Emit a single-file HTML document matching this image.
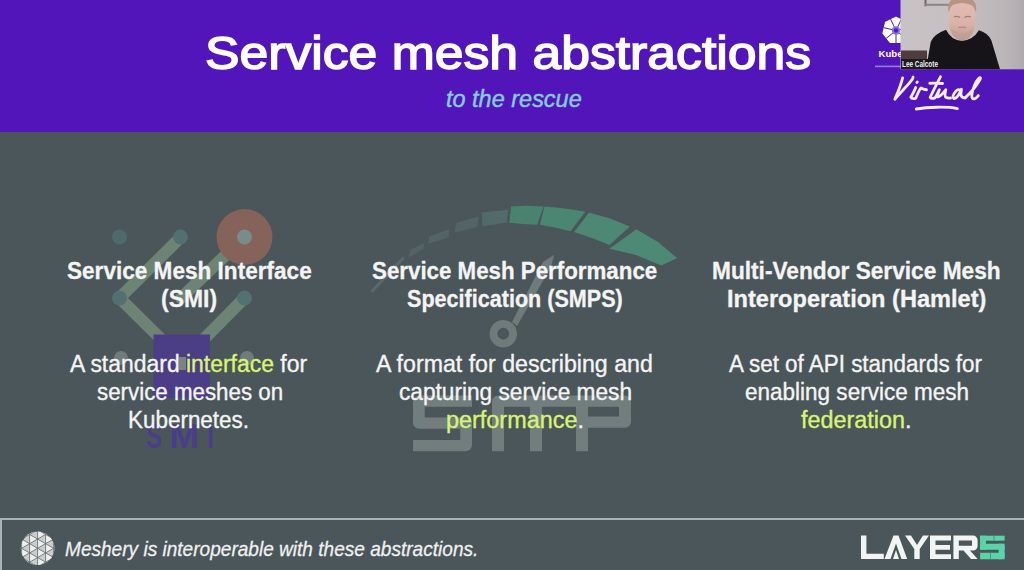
<!DOCTYPE html>
<html><head><meta charset="utf-8">
<style>
html,body{margin:0;padding:0;}
body{width:1024px;height:570px;overflow:hidden;position:relative;background:#4a5659;font-family:"Liberation Sans",sans-serif;}
.t{position:absolute;white-space:nowrap;transform-origin:0 0;}
#hdr{position:absolute;left:0;top:0;width:1024px;height:132px;background:#5115b9;}
#fline{position:absolute;left:0;top:518px;width:1024px;height:2px;background:#a9b3b3;}
#vline{position:absolute;left:0;top:518px;width:1.6px;height:52px;background:#a9b3b3;}
svg{position:absolute;left:0;top:0;}
</style></head><body>
<div id="hdr"></div>
<div id="fline"></div><div id="vline"></div>
<svg width="1024" height="570" viewBox="0 0 1024 570">
<!-- SMI logo -->
<g>
<path d="M181,237 L119.5,298 L163,341" fill="none" stroke="#6d8373" stroke-width="12" stroke-linecap="round" stroke-linejoin="round"/>
<path d="M244.5,237 L181,298" fill="none" stroke="#6d8373" stroke-width="12" stroke-linecap="round"/>
<path d="M244.5,298 L202,341" fill="none" stroke="#6d8373" stroke-width="12" stroke-linecap="round"/>
<circle cx="119.5" cy="237" r="7.5" fill="#506a6c"/>
<circle cx="180.5" cy="237" r="7.5" fill="#546f6f"/>
<circle cx="119.5" cy="298" r="7.5" fill="#546f6f"/>
<circle cx="244.5" cy="298" r="7.5" fill="#557070"/>
<circle cx="244.5" cy="237" r="28" fill="#85625a"/>
<circle cx="244.5" cy="237" r="7.5" fill="#7a8c8a"/>
<rect x="153.5" y="334.5" width="56.5" height="63.5" fill="#4b3d86"/>
<circle cx="121" cy="358" r="7" fill="#6f7b7c"/>
<circle cx="247" cy="358" r="7" fill="#6f7b7c"/>
<rect x="179" y="357" width="7" height="13" fill="#7c8286"/>
<g font-family="Liberation Sans" font-weight="bold" font-size="35" fill="#4a3d8a">
<text x="146.3" y="448" textLength="15.7" lengthAdjust="spacingAndGlyphs">S</text>
<text x="169.5" y="448" textLength="29.5" lengthAdjust="spacingAndGlyphs">M</text>
<text x="207.3" y="448" textLength="6.3" lengthAdjust="spacingAndGlyphs">I</text>
</g>
</g>
<!-- SMP logo -->
<g>
<path d="M370.3,290.8 L402.5,256.5 L404.8,258.8 L372.5,293.0Z" fill="#5b686a"/>
<path d="M409.9,250.2 L423.7,242.9 L423.7,248.4 L408.9,257.6Z" fill="#546365"/>
<path d="M429.2,236.4 L449.4,229.0 L448.5,237.4 L428.3,243.8Z" fill="#536366"/>
<path d="M456.8,222.6 L478.9,216.2 L477.0,227.2 L454.0,232.8Z" fill="#536466"/>
<path d="M481.7,212.5 L508.4,209.7 L506.5,222.6 L482.6,226.3Z" fill="#516a6a"/>
<path d="M511.1,206.5 L527.0,205.8 L543.6,206.5 L537.1,224.7 L523.0,224.0 L509.3,222.8Z" fill="#4a8270"/>
<path d="M544.5,206.5 L565.0,208.5 L585.3,211.7 L570.5,231.2 L555.0,227.5 L539.9,224.7Z" fill="#4b8672"/>
<path d="M589.0,212.6 L610.0,218.5 L629.9,226.5 L609.5,245.1 L592.0,238.0 L574.2,232.1Z" fill="#4c8874"/>
<path d="M636.4,229.3 L658.0,242.0 L677.2,258.1 L661.4,265.5 L636.0,255.0 L609.5,248.8Z" fill="#4d8a75"/>
<path d="M512,322 L543,262 L554.2,254.7 L551,267 L517,326 Z" fill="#6f7a7a"/>
<circle cx="503.3" cy="333.7" r="9.8" fill="none" stroke="#6f7a7a" stroke-width="7.8"/>
<g fill="#727d7e">
<path d="M419,395.5 H472 V406.7 H424.7 V417.5 H466 A6,6 0 0 1 472,423.5 V445 A6,6 0 0 1 466,451.2 H413 V440 H460.3 V428.7 H419 A6,6 0 0 1 413,422.7 V401.5 A6,6 0 0 1 419,395.5 Z"/>
<path d="M498,395.5 H625 A6,6 0 0 1 631,401.5 V421.7 A6,6 0 0 1 625,427.7 H588 V451.2 H576 V406.7 H542 V451.2 H530 V406.7 H504 V451.2 H492 V401.5 A6,6 0 0 1 498,395.5 Z M588,406.7 V416.6 H619 V406.7 Z" fill-rule="evenodd"/>
</g>
</g>
<!-- Meshery logo -->
<clipPath id="mc"><circle cx="37.6" cy="548.3" r="16.8"/></clipPath>
<g clip-path="url(#mc)">
<circle cx="37.6" cy="548.3" r="16.8" fill="#c9cdcd"/>
<path d="M13.60,497.48 L13.60,506.72 L21.60,502.10Z" fill="#eef0f0"/>
<path d="M13.60,506.72 L13.60,515.96 L21.60,511.34Z" fill="#eef0f0"/>
<path d="M13.60,515.96 L13.60,525.20 L21.60,520.58Z" fill="#eef0f0"/>
<path d="M13.60,525.20 L13.60,534.44 L21.60,529.82Z" fill="#eef0f0"/>
<path d="M13.60,534.44 L13.60,543.68 L21.60,539.06Z" fill="#eef0f0"/>
<path d="M13.60,543.68 L13.60,552.92 L21.60,548.30Z" fill="#eef0f0"/>
<path d="M13.60,552.92 L13.60,562.16 L21.60,557.54Z" fill="#eef0f0"/>
<path d="M13.60,562.16 L13.60,571.40 L21.60,566.78Z" fill="#eef0f0"/>
<path d="M13.60,571.40 L13.60,580.64 L21.60,576.02Z" fill="#eef0f0"/>
<path d="M21.60,502.10 L21.60,511.34 L29.60,506.72Z" fill="#eef0f0"/>
<path d="M21.60,511.34 L21.60,520.58 L29.60,515.96Z" fill="#eef0f0"/>
<path d="M21.60,520.58 L21.60,529.82 L29.60,525.20Z" fill="#eef0f0"/>
<path d="M21.60,529.82 L21.60,539.06 L29.60,534.44Z" fill="#eef0f0"/>
<path d="M21.60,539.06 L21.60,548.30 L29.60,543.68Z" fill="#eef0f0"/>
<path d="M21.60,548.30 L21.60,557.54 L29.60,552.92Z" fill="#eef0f0"/>
<path d="M21.60,557.54 L21.60,566.78 L29.60,562.16Z" fill="#eef0f0"/>
<path d="M21.60,566.78 L21.60,576.02 L29.60,571.40Z" fill="#eef0f0"/>
<path d="M21.60,576.02 L21.60,585.26 L29.60,580.64Z" fill="#eef0f0"/>
<path d="M29.60,506.72 L29.60,515.96 L37.60,511.34Z" fill="#eef0f0"/>
<path d="M29.60,515.96 L29.60,525.20 L37.60,520.58Z" fill="#eef0f0"/>
<path d="M29.60,525.20 L29.60,534.44 L37.60,529.82Z" fill="#eef0f0"/>
<path d="M29.60,534.44 L29.60,543.68 L37.60,539.06Z" fill="#eef0f0"/>
<path d="M29.60,543.68 L29.60,552.92 L37.60,548.30Z" fill="#eef0f0"/>
<path d="M29.60,552.92 L29.60,562.16 L37.60,557.54Z" fill="#eef0f0"/>
<path d="M29.60,562.16 L29.60,571.40 L37.60,566.78Z" fill="#eef0f0"/>
<path d="M29.60,571.40 L29.60,580.64 L37.60,576.02Z" fill="#eef0f0"/>
<path d="M29.60,580.64 L29.60,589.88 L37.60,585.26Z" fill="#eef0f0"/>
<path d="M37.60,511.34 L37.60,520.58 L45.60,515.96Z" fill="#eef0f0"/>
<path d="M37.60,520.58 L37.60,529.82 L45.60,525.20Z" fill="#eef0f0"/>
<path d="M37.60,529.82 L37.60,539.06 L45.60,534.44Z" fill="#eef0f0"/>
<path d="M37.60,539.06 L37.60,548.30 L45.60,543.68Z" fill="#eef0f0"/>
<path d="M37.60,548.30 L37.60,557.54 L45.60,552.92Z" fill="#eef0f0"/>
<path d="M37.60,557.54 L37.60,566.78 L45.60,562.16Z" fill="#eef0f0"/>
<path d="M37.60,566.78 L37.60,576.02 L45.60,571.40Z" fill="#eef0f0"/>
<path d="M37.60,576.02 L37.60,585.26 L45.60,580.64Z" fill="#eef0f0"/>
<path d="M37.60,585.26 L37.60,594.50 L45.60,589.88Z" fill="#eef0f0"/>
<path d="M45.60,515.96 L45.60,525.20 L53.60,520.58Z" fill="#eef0f0"/>
<path d="M45.60,525.20 L45.60,534.44 L53.60,529.82Z" fill="#eef0f0"/>
<path d="M45.60,534.44 L45.60,543.68 L53.60,539.06Z" fill="#eef0f0"/>
<path d="M45.60,543.68 L45.60,552.92 L53.60,548.30Z" fill="#eef0f0"/>
<path d="M45.60,552.92 L45.60,562.16 L53.60,557.54Z" fill="#eef0f0"/>
<path d="M45.60,562.16 L45.60,571.40 L53.60,566.78Z" fill="#eef0f0"/>
<path d="M45.60,571.40 L45.60,580.64 L53.60,576.02Z" fill="#eef0f0"/>
<path d="M45.60,580.64 L45.60,589.88 L53.60,585.26Z" fill="#eef0f0"/>
<path d="M45.60,589.88 L45.60,599.12 L53.60,594.50Z" fill="#eef0f0"/>
<path d="M53.60,520.58 L53.60,529.82 L61.60,525.20Z" fill="#eef0f0"/>
<path d="M53.60,529.82 L53.60,539.06 L61.60,534.44Z" fill="#eef0f0"/>
<path d="M53.60,539.06 L53.60,548.30 L61.60,543.68Z" fill="#eef0f0"/>
<path d="M53.60,548.30 L53.60,557.54 L61.60,552.92Z" fill="#eef0f0"/>
<path d="M53.60,557.54 L53.60,566.78 L61.60,562.16Z" fill="#eef0f0"/>
<path d="M53.60,566.78 L53.60,576.02 L61.60,571.40Z" fill="#eef0f0"/>
<path d="M53.60,576.02 L53.60,585.26 L61.60,580.64Z" fill="#eef0f0"/>
<path d="M53.60,585.26 L53.60,594.50 L61.60,589.88Z" fill="#eef0f0"/>
<path d="M53.60,594.50 L53.60,603.74 L61.60,599.12Z" fill="#eef0f0"/>
<g stroke="#6c7576" stroke-width="0.9" fill="none">
<line x1="13.60" y1="520" x2="13.60" y2="580"/>
<line x1="21.60" y1="520" x2="21.60" y2="580"/>
<line x1="29.60" y1="520" x2="29.60" y2="580"/>
<line x1="37.60" y1="520" x2="37.60" y2="580"/>
<line x1="45.60" y1="520" x2="45.60" y2="580"/>
<line x1="53.60" y1="520" x2="53.60" y2="580"/>
<line x1="7.60" y1="475.54" x2="67.60" y2="510.18"/>
<line x1="7.60" y1="510.18" x2="67.60" y2="475.54"/>
<line x1="7.60" y1="484.78" x2="67.60" y2="519.42"/>
<line x1="7.60" y1="519.42" x2="67.60" y2="484.78"/>
<line x1="7.60" y1="494.02" x2="67.60" y2="528.66"/>
<line x1="7.60" y1="528.66" x2="67.60" y2="494.02"/>
<line x1="7.60" y1="503.26" x2="67.60" y2="537.90"/>
<line x1="7.60" y1="537.90" x2="67.60" y2="503.26"/>
<line x1="7.60" y1="512.50" x2="67.60" y2="547.14"/>
<line x1="7.60" y1="547.14" x2="67.60" y2="512.50"/>
<line x1="7.60" y1="521.74" x2="67.60" y2="556.38"/>
<line x1="7.60" y1="556.38" x2="67.60" y2="521.74"/>
<line x1="7.60" y1="530.98" x2="67.60" y2="565.62"/>
<line x1="7.60" y1="565.62" x2="67.60" y2="530.98"/>
<line x1="7.60" y1="540.22" x2="67.60" y2="574.86"/>
<line x1="7.60" y1="574.86" x2="67.60" y2="540.22"/>
<line x1="7.60" y1="549.46" x2="67.60" y2="584.10"/>
<line x1="7.60" y1="584.10" x2="67.60" y2="549.46"/>
<line x1="7.60" y1="558.70" x2="67.60" y2="593.34"/>
<line x1="7.60" y1="593.34" x2="67.60" y2="558.70"/>
<line x1="7.60" y1="567.94" x2="67.60" y2="602.58"/>
<line x1="7.60" y1="602.58" x2="67.60" y2="567.94"/>
<line x1="7.60" y1="577.18" x2="67.60" y2="611.82"/>
<line x1="7.60" y1="611.82" x2="67.60" y2="577.18"/>
<line x1="7.60" y1="586.42" x2="67.60" y2="621.06"/>
<line x1="7.60" y1="621.06" x2="67.60" y2="586.42"/>
</g></g>
<!-- Layer5 logo -->
<g fill="#f2f4f4">
<path d="M861,535.6 H866.4 V553.7 H883.8 V559 H861 Z"/>
<path d="M884.5,559 L893.5,535.6 H898.5 L907.2,559 H901.5 L896,543.5 L890.5,559 Z M893,559 L896,550 L899,559 Z"/>
<path d="M905,535.6 H911 L917,545 L923,535.6 H929 L919.7,549 V559 H914.3 V549 Z"/>
<path d="M930,535.6 H951 V540.5 H935.5 V545 H950 V549.8 H935.5 V554.2 H951 V559 H930 Z"/>
<path d="M953.4,535.6 H973 A4.6,4.6 0 0 1 977.6,540.2 V546 A4.6,4.6 0 0 1 973,550.6 H970 L977.6,559 H971 L963.5,550.6 H958.8 V559 H953.4 Z M958.8,540.5 V545.7 H972 V540.5 Z" fill-rule="evenodd"/>
</g>
<g fill="#5bd3a8">
<rect x="980.1" y="535.7" width="24.5" height="5"/>
<rect x="980.1" y="535.7" width="5.9" height="14"/>
<path d="M980.1,543.7 H1001.6 A3,3 0 0 1 1004.6,546.7 V549.7 H980.1 Z"/>
<rect x="998.6" y="543.7" width="6" height="15.5"/>
<path d="M980.1,552.7 H1004.6 V556.2 A3,3 0 0 1 1001.6,559.2 H980.1 Z"/>
</g>
<g fill="#3f8d74"><rect x="993.6" y="535.7" width="0.8" height="5"/><rect x="990.1" y="552.7" width="0.8" height="6.5"/></g>
</svg>
<div class="t" style="left:204.55px;top:30.00px;font-size:46px;font-weight:normal;font-style:normal;line-height:46px;transform:scaleX(1.1235);-webkit-text-stroke:1.5px #fff;"><span style="color:#ffffff;-webkit-text-stroke-color:#ffffff">Service mesh abstractions</span></div>
<div class="t" style="left:445.62px;top:87.00px;font-size:24px;font-weight:normal;font-style:italic;line-height:24px;transform:scaleX(0.9781);-webkit-text-stroke:0.45px #84cbe0;"><span style="color:#84cbe0;-webkit-text-stroke-color:#84cbe0">to the rescue</span></div>
<div class="t" style="left:67.00px;top:260.00px;font-size:23.4px;font-weight:bold;font-style:normal;line-height:23.4px;transform:scaleX(0.9652);-webkit-text-stroke:0.3px #f4f4f4;"><span style="color:#f4f4f4;-webkit-text-stroke-color:#f4f4f4">Service Mesh Interface</span></div>
<div class="t" style="left:160.72px;top:288.00px;font-size:23.4px;font-weight:bold;font-style:normal;line-height:23.4px;transform:scaleX(0.9806);-webkit-text-stroke:0.3px #f4f4f4;"><span style="color:#f4f4f4;-webkit-text-stroke-color:#f4f4f4">(SMI)</span></div>
<div class="t" style="left:371.50px;top:260.00px;font-size:23.4px;font-weight:bold;font-style:normal;line-height:23.4px;transform:scaleX(0.9538);-webkit-text-stroke:0.3px #f4f4f4;"><span style="color:#f4f4f4;-webkit-text-stroke-color:#f4f4f4">Service Mesh Performance</span></div>
<div class="t" style="left:407.00px;top:288.00px;font-size:23.4px;font-weight:bold;font-style:normal;line-height:23.4px;transform:scaleX(0.9221);-webkit-text-stroke:0.3px #f4f4f4;"><span style="color:#f4f4f4;-webkit-text-stroke-color:#f4f4f4">Specification (SMPS)</span></div>
<div class="t" style="left:712.33px;top:260.00px;font-size:23.4px;font-weight:bold;font-style:normal;line-height:23.4px;transform:scaleX(0.9696);-webkit-text-stroke:0.3px #f4f4f4;"><span style="color:#f4f4f4;-webkit-text-stroke-color:#f4f4f4">Multi-Vendor Service Mesh</span></div>
<div class="t" style="left:727.39px;top:288.00px;font-size:23.4px;font-weight:bold;font-style:normal;line-height:23.4px;transform:scaleX(1.0081);-webkit-text-stroke:0.3px #f4f4f4;"><span style="color:#f4f4f4;-webkit-text-stroke-color:#f4f4f4">Interoperation (Hamlet)</span></div>
<div class="t" style="left:69.70px;top:353.00px;font-size:23px;font-weight:normal;font-style:normal;line-height:23px;transform:scaleX(0.9970);-webkit-text-stroke:0.35px currentColor;"><span style="color:#f4f4f4;-webkit-text-stroke-color:#f4f4f4">A standard </span><span style="color:#d9f374;-webkit-text-stroke-color:#d9f374">interface</span><span style="color:#f4f4f4;-webkit-text-stroke-color:#f4f4f4"> for</span></div>
<div class="t" style="left:96.50px;top:381.00px;font-size:23px;font-weight:normal;font-style:normal;line-height:23px;transform:scaleX(0.9709);-webkit-text-stroke:0.35px currentColor;"><span style="color:#f4f4f4;-webkit-text-stroke-color:#f4f4f4">service meshes on</span></div>
<div class="t" style="left:128.32px;top:409.00px;font-size:23px;font-weight:normal;font-style:normal;line-height:23px;transform:scaleX(0.9758);-webkit-text-stroke:0.35px currentColor;"><span style="color:#f4f4f4;-webkit-text-stroke-color:#f4f4f4">Kubernetes.</span></div>
<div class="t" style="left:375.70px;top:353.00px;font-size:23px;font-weight:normal;font-style:normal;line-height:23px;transform:scaleX(1.0071);-webkit-text-stroke:0.35px currentColor;"><span style="color:#f4f4f4;-webkit-text-stroke-color:#f4f4f4">A format for describing and</span></div>
<div class="t" style="left:398.80px;top:381.00px;font-size:23px;font-weight:normal;font-style:normal;line-height:23px;transform:scaleX(0.9852);-webkit-text-stroke:0.35px currentColor;"><span style="color:#f4f4f4;-webkit-text-stroke-color:#f4f4f4">capturing service mesh</span></div>
<div class="t" style="left:445.98px;top:409.00px;font-size:23px;font-weight:normal;font-style:normal;line-height:23px;transform:scaleX(1.0179);-webkit-text-stroke:0.35px currentColor;"><span style="color:#d9f374;-webkit-text-stroke-color:#d9f374">performance</span><span style="color:#f4f4f4;-webkit-text-stroke-color:#f4f4f4">.</span></div>
<div class="t" style="left:728.80px;top:353.00px;font-size:23px;font-weight:normal;font-style:normal;line-height:23px;transform:scaleX(0.9748);-webkit-text-stroke:0.35px currentColor;"><span style="color:#f4f4f4;-webkit-text-stroke-color:#f4f4f4">A set of API standards for</span></div>
<div class="t" style="left:744.80px;top:381.00px;font-size:23px;font-weight:normal;font-style:normal;line-height:23px;transform:scaleX(0.9787);-webkit-text-stroke:0.35px currentColor;"><span style="color:#f4f4f4;-webkit-text-stroke-color:#f4f4f4">enabling service mesh</span></div>
<div class="t" style="left:801.40px;top:409.00px;font-size:23px;font-weight:normal;font-style:normal;line-height:23px;transform:scaleX(1.0159);-webkit-text-stroke:0.35px currentColor;"><span style="color:#d9f374;-webkit-text-stroke-color:#d9f374">federation</span><span style="color:#f4f4f4;-webkit-text-stroke-color:#f4f4f4">.</span></div>
<div class="t" style="left:65.30px;top:539.00px;font-size:20.8px;font-weight:normal;font-style:italic;line-height:20.8px;transform:scaleX(0.9168);-webkit-text-stroke:0.3px #f0f0f0;"><span style="color:#f0f0f0;-webkit-text-stroke-color:#f0f0f0">Meshery is interoperable with these abstractions.</span></div>
<!-- Webcam & Kube virtual -->
<svg width="1024" height="570" viewBox="0 0 1024 570">
<!-- kube logo -->
<g>
<path d="M896.0,17.2 L906.4,22.2 L909.0,33.5 L901.8,42.5 L890.2,42.5 L883.0,33.5 L885.6,22.2Z" fill="#ffffff" stroke="#ffffff" stroke-width="1.2" stroke-linejoin="round"/>
<g stroke="#4a22b0" stroke-width="1"><line x1="896" y1="30.5" x2="901.4" y2="19.2"/><line x1="896" y1="30.5" x2="908.2" y2="27.7"/><line x1="896" y1="30.5" x2="905.8" y2="38.3"/><line x1="896" y1="30.5" x2="896.0" y2="43.0"/><line x1="896" y1="30.5" x2="886.2" y2="38.3"/><line x1="896" y1="30.5" x2="883.8" y2="27.7"/><line x1="896" y1="30.5" x2="890.6" y2="19.2"/></g>
<circle cx="896" cy="30.5" r="4.2" fill="#8a70ee"/>
<circle cx="896" cy="30.5" r="2.2" fill="#4a22b0"/>
<text x="878.5" y="56.8" font-family="Liberation Sans" font-weight="bold" font-size="9.6" fill="#ffffff">Kube</text>
<rect x="875" y="65.6" width="30" height="1.6" fill="#9b7cf0"/>
</g>
<!-- webcam -->
<defs>
<linearGradient id="wall" x1="0" y1="0" x2="1" y2="0">
<stop offset="0" stop-color="#c8c1c5"/>
<stop offset="0.45" stop-color="#c6c0c2"/>
<stop offset="0.85" stop-color="#bbb5b8"/>
<stop offset="1" stop-color="#b0aab0"/>
</linearGradient>
<linearGradient id="face" x1="0" y1="0" x2="0" y2="1">
<stop offset="0" stop-color="#e4beb6"/>
<stop offset="0.6" stop-color="#dab2aa"/>
<stop offset="1" stop-color="#b89a90"/>
</linearGradient>
</defs>
<g>
<rect x="900.5" y="0" width="124" height="69.3" fill="url(#wall)"/>
<rect x="924.5" y="0" width="2" height="6.3" fill="#6e686e"/>
<rect x="924.5" y="3.8" width="26.5" height="2" fill="#8a848a"/>
<rect x="901" y="50.5" width="26" height="9" fill="#4e3c3e"/>
<rect x="901" y="59" width="30" height="10.3" fill="#1e1a1e"/>
<path d="M949,12 Q948,-2 962,-2 Q976,-2 975.5,12 L975,26 Q973,39 962,41 Q951,39 949,26 Z" fill="url(#face)"/>
<path d="M948.5,12 Q946,-3 962,-3 Q978,-3 976,12 L974.8,10 Q974,3.5 962,3 Q950,3.5 949.6,10 Z" fill="#b89482"/>
<path d="M954,17 Q957,15.5 960,17.5 M964.5,17.5 Q967.5,15.5 971,17" stroke="#a07e78" stroke-width="1.3" fill="none"/>
<path d="M958.5,27.5 Q962,26.5 966,27.5" stroke="#a8807a" stroke-width="1.2" fill="none"/>
<path d="M951,28 Q953,38 962,41 Q971,38 973.5,28 Q969,33 962,33 Q955,33 951,28 Z" fill="#bf9e94" opacity="0.7"/>
<path d="M926,69.3 L930.8,41.7 Q934,34 946,29.7 Q951,40 962,41 Q973,40 979,30.3 Q988,33 991.4,40.4 L1000,69.3 Z" fill="#161418"/>
<text x="902" y="67" font-family="Liberation Sans" font-weight="bold" font-size="8.2" fill="#f0f0f0" textLength="36" lengthAdjust="spacingAndGlyphs">Lee Calcote</text>
</g>
<!-- Virtual -->
<g transform="translate(888,70) scale(0.09766)" fill="none" stroke="#f2ecff" stroke-width="29" stroke-linecap="round" stroke-linejoin="round">
<path d="M150,80 C135,150 100,230 70,300 C110,250 190,170 230,120 C250,95 262,80 256,72"/>
<path d="M296,128 L300,122"/>
<path d="M284,180 C270,215 245,260 234,279 C240,295 265,293 284,290 C300,250 320,200 338,184 C355,195 375,200 394,202"/>
<path d="M537,70 C500,140 455,230 432,279 C440,295 465,290 481,285 C500,260 515,220 526,202 C515,230 505,265 512,276 C540,270 575,220 592,202 C585,230 580,270 592,279 C610,290 625,288 640,287"/>
<path d="M427,136 C480,134 520,135 559,138"/>
<path d="M738,205 C700,185 650,270 672,290 C700,300 735,240 752,198 C742,245 740,290 790,285"/>
<path d="M790,285 C850,230 930,130 945,90 C955,60 905,90 880,170 C855,240 845,300 885,295 C905,290 915,275 925,262"/>
<path d="M290,400 C400,380 600,370 710,395" stroke-width="30"/>
</g>
</svg>
</body></html>
